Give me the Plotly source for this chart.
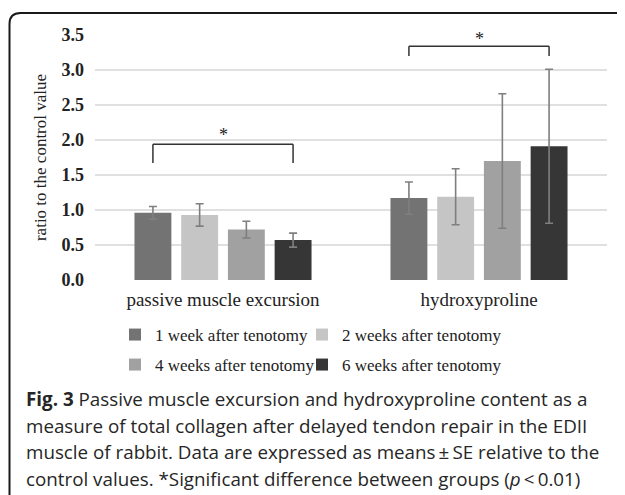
import plotly.graph_objects as go

categories = ["passive muscle excursion", "hydroxyproline"]
series_names = ["1 week after tenotomy", "2 weeks after tenotomy",
                "4 weeks after tenotomy", "6 weeks after tenotomy"]
week1 = [0.96, 1.17]
week2 = [0.93, 1.19]
week4 = [0.72, 1.70]
week6 = [0.57, 1.91]
week1_se = [0.09, 0.23]
week2_se = [0.16, 0.40]
week4_se = [0.12, 0.96]
week6_se = [0.10, 1.10]
y_ticks = [0.0, 0.5, 1.0, 1.5, 2.0, 2.5, 3.0, 3.5]
caption_lines = [
    "<b>Fig. 3</b> Passive muscle excursion and hydroxyproline content as a",
    "measure of total collagen after delayed tendon repair in the EDII",
    "muscle of rabbit. Data are expressed as means\u2009\u00b1\u2009SE relative to the",
    "control values. *Significant difference between groups (<i>p</i>\u2009<\u20090.01)",
]

colors = ["#737373", "#c5c5c5", "#a1a1a1", "#363636"]
values = [week1, week2, week4, week6]
errors = [week1_se, week2_se, week4_se, week6_se]
legend_ids = ["legend", "legend2", "legend3", "legend4"]

# page body has an 8px margin: the figure starts at screen (8, 8)
OFF = 8
W, H = 625 - OFF, 495 - OFF
PLOT_L, PLOT_R, PLOT_T, PLOT_B = 95, 607, 35, 280  # screen pixels
ML, MT = PLOT_L - OFF, PLOT_T - OFF
MR = 625 - PLOT_R
MB = H - (PLOT_B - OFF)
PW = PLOT_R - PLOT_L
PH = PLOT_B - PLOT_T
YMAX = 3.5


def px_x(p):  # screen px -> paper x
    return (p - PLOT_L) / PW


def px_y(p):  # screen px -> paper y
    return (PLOT_B - p) / PH


SERIF = "Liberation Serif, Times New Roman, serif"
SANS = "Open Sans, Noto Sans, sans-serif"

fig = go.Figure()
for name, v, e, c, lg in zip(series_names, values, errors, colors, legend_ids):
    fig.add_trace(go.Bar(
        x=categories, y=v, name=name, marker=dict(color=c, line=dict(width=0)),
        error_y=dict(type="data", array=e, visible=True, color="#7f7f7f",
                     thickness=1.6, width=4),
        legend=lg, showlegend=True,
    ))

BARGAP = 0.27
off = (1 - BARGAP) / 4
first = -(1 - BARGAP) / 2 + off / 2
last = (1 - BARGAP) / 2 - off / 2

shapes = []
brackets = [(0, 1.94, 1.67, 2.07), (1, 3.34, 3.20, 3.44)]
for ci, ytop, ybot, yast in brackets:
    x0, x1 = ci + first, ci + last
    for (a, b, c_, d) in [(x0, ytop, x1, ytop), (x0, ytop, x0, ybot), (x1, ytop, x1, ybot)]:
        shapes.append(dict(type="line", xref="x", yref="y", x0=a, y0=b, x1=c_, y1=d,
                           line=dict(color="#333333", width=1.5)))

# rounded frame (top-left corner)
path = ("M {a},{b} L {a},{c} Q {a},{d} {e},{d} L {f},{d}").format(
    a=px_x(9.5), b=px_y(505), c=px_y(24), d=px_y(13), e=px_x(20.5), f=px_x(640))
shapes.append(dict(type="path", xref="paper", yref="paper", path=path,
                   line=dict(color="#1a1a1a", width=2)))

annotations = []
for ci, ytop, ybot, yast in brackets:
    annotations.append(dict(x=ci, y=yast, xref="x", yref="y", text="*", showarrow=False,
                            font=dict(family=SERIF, size=18, color="#222222"),
                            xanchor="center", yanchor="middle"))

cap_y = [399, 425.7, 452.4, 479]
for line, py in zip(caption_lines, cap_y):
    annotations.append(dict(x=px_x(24), y=px_y(py), xref="paper", yref="paper", text=line,
                            showarrow=False, xanchor="left", yanchor="middle",
                            font=dict(family=SANS, size=18.8, color="#262626")))

legend_common = dict(orientation="h", xanchor="left", yanchor="middle",
                     font=dict(family=SERIF, size=17, color="#222222"),
                     itemwidth=30, bgcolor="rgba(0,0,0,0)", visible=True)
# screen-pixel anchor of each legend entry (text starts ~39px to the right)
legend_pos = {"legend": (115, 335), "legend2": (302, 335),
              "legend3": (115, 365), "legend4": (302, 365)}

legend_layout = {k: dict(x=px_x(v[0]), y=px_y(v[1]), **legend_common)
                 for k, v in legend_pos.items()}

fig.update_layout(
    width=W, height=H, showlegend=True,
    margin=dict(l=ML, r=MR, t=MT, b=MB, autoexpand=False),
    paper_bgcolor="white", plot_bgcolor="white",
    barmode="group", bargap=BARGAP, bargroupgap=0.21,
    font=dict(family=SERIF, color="#222222"),
    shapes=shapes, annotations=annotations,
    xaxis=dict(type="category", range=[-0.5, 1.5], showgrid=False, showline=False,
               ticks="", tickfont=dict(family=SERIF, size=19, color="#222222"),
               ticklabelstandoff=6),
    yaxis=dict(range=[0, YMAX], tickvals=y_ticks, tickformat=".1f",
               showgrid=True, gridcolor="#e0e0e0", gridwidth=1.5,
               zeroline=False, showline=False, ticks="",
               tickfont=dict(family=SERIF, size=18, color="#222222", weight="bold"),
               ticklabelstandoff=10,
               title=dict(text="ratio to the control value", standoff=10,
                          font=dict(family=SERIF, size=17, color="#222222"))),
    **legend_layout,
)

fig.write_html("out.html")
